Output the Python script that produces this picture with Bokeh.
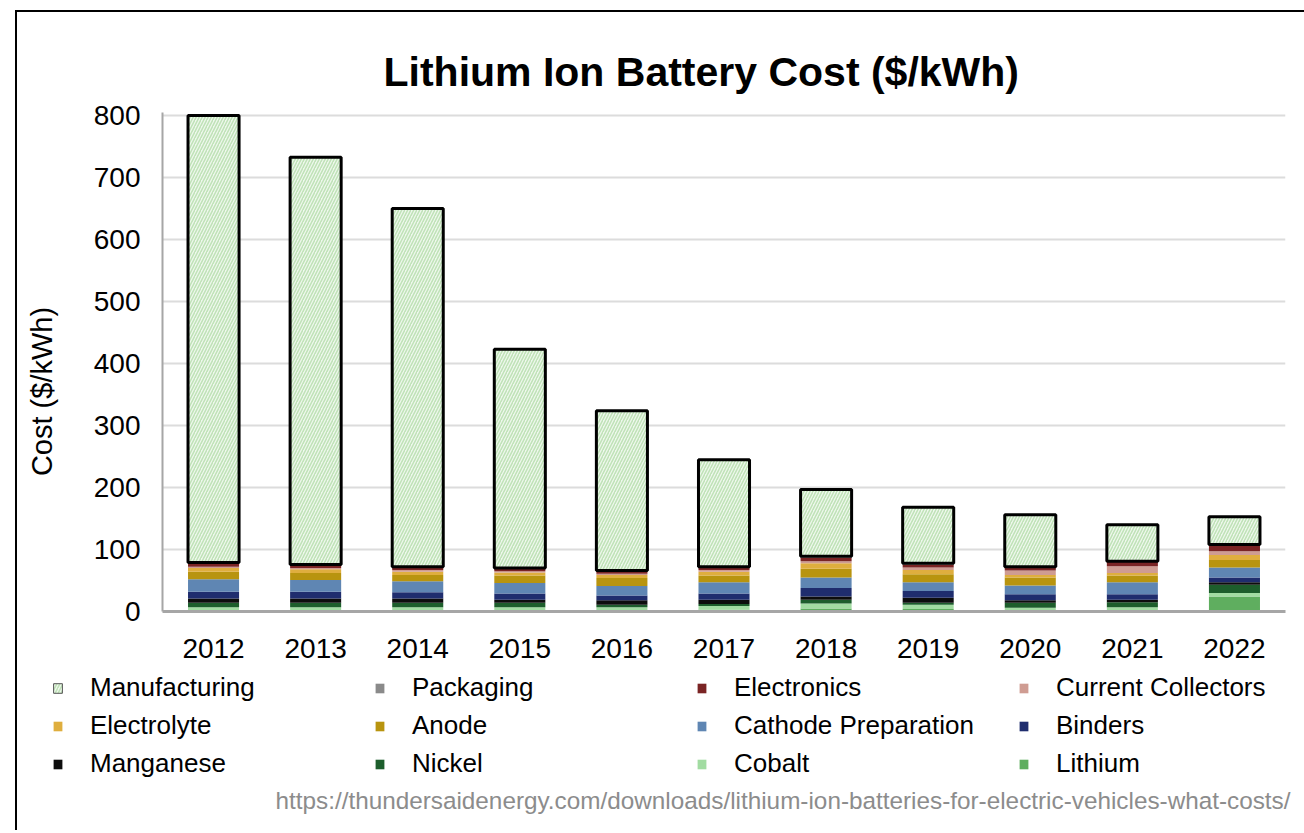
import math
from bokeh.plotting import figure
from bokeh.models import (ColumnDataSource, FactorRange, Range1d, FixedTicker, Legend,
                          LegendItem, Label)
from bokeh.layouts import column, row
from bokeh.transform import stack
from bokeh.embed import file_html
from bokeh.resources import INLINE

# ---------------- data ----------------
years = ["2012", "2013", "2014", "2015", "2016", "2017", "2018", "2019", "2020", "2021", "2022"]
lithium = [2, 2, 2, 2, 2, 3, 5, 4, 2, 2, 24]
cobalt = [5, 5, 5, 5, 5, 6, 8, 7, 4, 5, 6]
nickel = [7, 7, 7, 7, 4, 3, 6, 3, 8, 8, 13]
manganese = [7, 7, 7, 5, 7, 7, 5, 8, 4, 4, 4]
binders = [11, 11, 10, 10, 8, 10, 14, 11, 10, 9, 8]
cathode_preparation = [20, 19, 18, 17, 15, 18, 17, 14, 14, 19, 16]
anode = [12, 11, 10, 12, 13, 11, 14, 13, 13, 11, 12]
electrolyte = [6, 6, 5, 5, 5, 6, 9, 7, 4, 4, 8]
current_collectors = [2, 2, 3, 2, 2, 3, 3, 4, 7, 11, 6]
electronics = [6, 5, 4, 4, 4, 4, 6, 5, 5, 7, 9]
packaging = [1, 1, 1, 1, 1, 1, 2, 2, 1, 1, 2]
manufacturing = [721, 657, 578, 353, 258, 173, 108, 90, 84, 59, 45]
y_ticks = [0, 100, 200, 300, 400, 500, 600, 700, 800]

title_text = "Lithium Ion Battery Cost ($/kWh)"
y_label = "Cost ($/kWh)"
source_text = "https://thundersaidenergy.com/downloads/lithium-ion-batteries-for-electric-vehicles-what-costs/"

stack_keys = ["Lithium", "Cobalt", "Nickel", "Manganese", "Binders", "Cathode Preparation",
              "Anode", "Electrolyte", "Current Collectors", "Electronics", "Packaging"]
stack_colors = ["#5fae5f", "#a2dca2", "#1d5e2c", "#0d0d0d", "#1f2d6e", "#5f86b3",
                "#b8940f", "#dfae3e", "#cf9c92", "#7a2424", "#8a8a8a"]

data = {"year": years, "Lithium": lithium, "Cobalt": cobalt, "Nickel": nickel,
        "Manganese": manganese, "Binders": binders, "Cathode Preparation": cathode_preparation,
        "Anode": anode, "Electrolyte": electrolyte, "Current Collectors": current_collectors,
        "Electronics": electronics, "Packaging": packaging, "Manufacturing": manufacturing}
source = ColumnDataSource(data)

FONT = "Liberation Sans"
MAN_STYLE = dict(fill_color="#eef8ec", hatch_pattern="right_diagonal_line",
                 hatch_color="#bfe2b7", hatch_weight=1.5, hatch_scale=6)

H_MAIN = 659
W_YLAB = 70
W_MAIN = 1217
W_ALL = W_YLAB + W_MAIN
H_LEG = 159

# ---------------- main chart ----------------
p = figure(x_range=FactorRange(*years), y_range=Range1d(0, 805),
           width=W_MAIN, height=H_MAIN, output_backend="svg", toolbar_location=None,
           min_border_left=75, min_border_right=19, min_border_top=100, min_border_bottom=60)
p.outline_line_color = None

renderers = p.vbar_stack(stack_keys, x="year", width=0.5, source=source,
                         color=stack_colors, line_color=None)

p.vbar(x="year", width=0.5, bottom=stack(*stack_keys),
       top=stack(*stack_keys, "Manufacturing"), source=source,
       line_color="black", line_width=3, **MAN_STYLE)

p.yaxis.ticker = FixedTicker(ticks=y_ticks)
for ax in (p.xaxis[0], p.yaxis[0]):
    ax.major_tick_line_color = None
    ax.minor_tick_line_color = None
    ax.major_tick_out = 0
    ax.major_tick_in = 0
    ax.minor_tick_out = 0
    ax.major_label_text_font = FONT
    ax.major_label_text_font_size = "28px"
    ax.major_label_text_color = "black"
    ax.axis_line_color = "#a6a6a6"
p.yaxis.axis_line_width = 2
p.xaxis.axis_line_width = 3
p.yaxis.major_label_standoff = 22
p.xaxis.major_label_standoff = 27

p.xgrid.grid_line_color = None
p.ygrid.grid_line_color = "#dcdcdc"
p.ygrid.grid_line_width = 2

p.title.text = title_text
p.title.text_font = FONT
p.title.text_font_style = "bold"
p.title.text_font_size = "41px"
p.title.text_color = "black"
p.title.align = "left"
p.title.offset = 221
p.title.standoff = 36

# ---------------- y label strip ----------------
py = figure(width=W_YLAB, height=H_MAIN, output_backend="svg", toolbar_location=None,
            x_axis_location=None, y_axis_location=None, min_border=0,
            x_range=Range1d(0, 1), y_range=Range1d(0, 1))
py.outline_line_color = None
py.grid.visible = False
py.add_layout(Label(x=24, y=220, x_units="screen", y_units="screen", text=y_label,
                    angle=math.pi / 2, text_align="center", text_baseline="middle",
                    text_font=FONT, text_font_size="29px", text_color="black"))

# ---------------- legend strip ----------------
# swatch renderers share the data but are hidden; they only provide legend glyphs
pl = figure(width=W_ALL, height=H_LEG, output_backend="svg", toolbar_location=None,
            x_axis_location=None, y_axis_location=None, min_border=0,
            x_range=FactorRange(*years), y_range=Range1d(0, 1000))
pl.outline_line_color = None
pl.grid.visible = False

swatch = {}
for k, c in zip(stack_keys, stack_colors):
    swatch[k] = pl.vbar(x="year", top=k, width=0.5, source=source,
                        fill_color=c, line_color=None, visible=False)
swatch["Manufacturing"] = pl.vbar(x="year", top="Manufacturing", width=0.5, source=source,
                                  line_color="#555555", line_width=1, visible=False,
                                  **MAN_STYLE)

order = ["Manufacturing", "Packaging", "Electronics", "Current Collectors",
         "Electrolyte", "Anode", "Cathode Preparation", "Binders",
         "Manganese", "Nickel", "Cobalt", "Lithium"]
items = [LegendItem(label=k, renderers=[swatch[k]]) for k in order]
legend = Legend(items=items, orientation="horizontal", ncols=4, location=(35, 51),
                glyph_width=11, glyph_height=12, label_standoff=27, label_width=277,
                label_height=30, spacing=7, padding=0, margin=0,
                border_line_alpha=0, background_fill_alpha=0,
                inactive_fill_alpha=0, click_policy="none",
                label_text_font=FONT, label_text_font_size="26px", label_text_color="black")
pl.add_layout(legend, "center")

pl.add_layout(Label(x=1273, y=30, x_units="screen", y_units="screen", text=source_text,
                    text_align="right", text_baseline="middle",
                    text_font=FONT, text_font_size="24.3px", text_color="#8c8c8c"))

layout = column(row(py, p), pl,
                styles={"border-left": "2px solid black", "border-top": "2px solid black"},
                margin=(10, 0, 0, 15))

open("out.html", "w").write(file_html(layout, INLINE))
